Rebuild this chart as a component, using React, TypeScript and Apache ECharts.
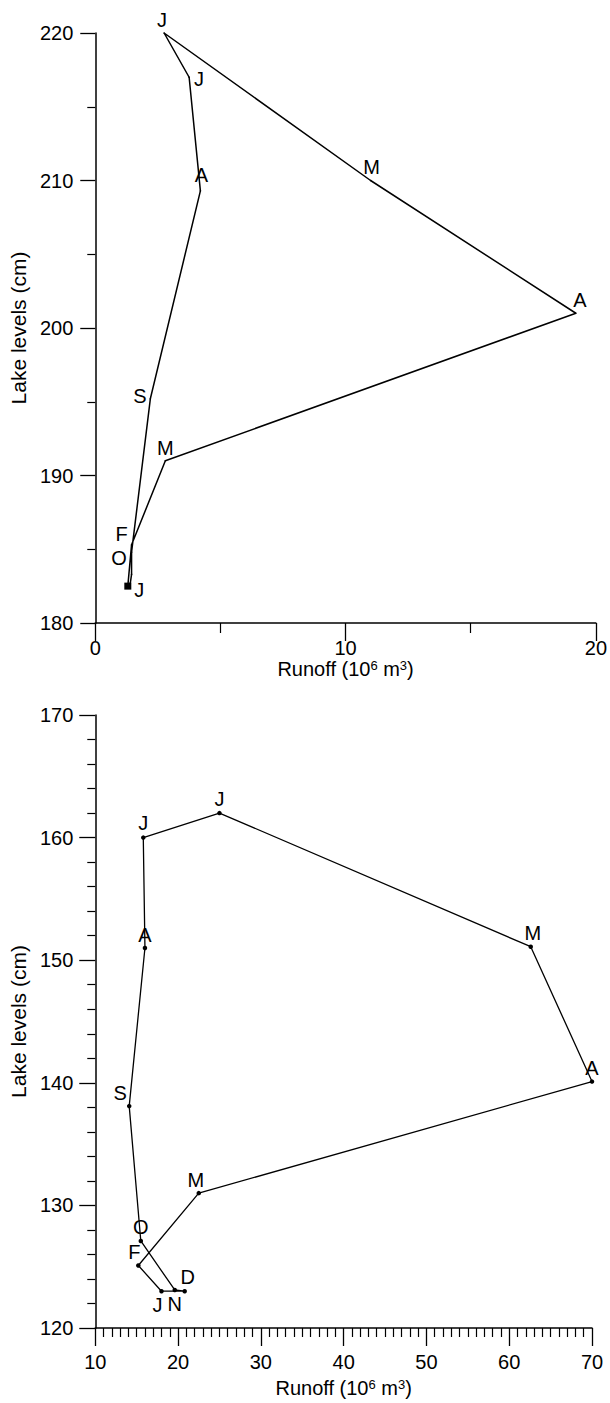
import React, { useEffect, useRef } from "react";
import * as echarts from "echarts";

// ---- Data: upper panel ----
const topMonths = ["J", "F", "M", "A", "M", "J", "J", "A", "S", "O", "N", "D"];
const topRunoff = [1.3, 1.45, 2.8, 19.2, 11.0, 2.75, 3.75, 4.2, 2.2, 1.45, 1.45, 1.4];
const topLevel = [182.5, 185.3, 191.0, 201.0, 210.0, 220.0, 217.0, 209.3, 195.2, 184.8, 183.3, 182.7];
const topShowLabel = [true, true, true, true, true, true, true, true, true, true, false, false];

// ---- Data: lower panel ----
const botMonths = ["J", "F", "M", "A", "M", "J", "J", "A", "S", "O", "N", "D"];
const botRunoff = [18.0, 15.2, 22.5, 70.0, 62.6, 25.0, 15.8, 16.0, 14.1, 15.5, 19.6, 20.8];
const botLevel = [123.0, 125.1, 131.0, 140.1, 151.1, 162.0, 160.0, 151.0, 138.1, 127.1, 123.1, 123.0];

// ---- Axis ticks ----
const topXTicks = { min: 0, max: 20, interval: 10 };
const topYTicks = { min: 180, max: 220, interval: 10 };
const botXTicks = { min: 10, max: 70, interval: 10 };
const botYTicks = { min: 120, max: 170, interval: 10 };

// ---- Label placement (layout only) ----
const topLabelLayout: any[] = [
  { position: "right", distance: 3, offset: [0, 4] },
  { position: "left", distance: 3, offset: [0, -11] },
  { position: "top", distance: 2, offset: [0, 0] },
  { position: "top", distance: 3, offset: [4, 0] },
  { position: "top", distance: 3, offset: [1, 0] },
  { position: "top", distance: 2, offset: [-2, 0] },
  { position: "right", distance: 4, offset: [0, 2] },
  { position: "top", distance: 5, offset: [1, 0] },
  { position: "left", distance: 3, offset: [0, -3] },
  { position: "left", distance: 4, offset: [0, 6] },
  { position: "top", distance: 3, offset: [0, 0] },
  { position: "top", distance: 3, offset: [0, 0] },
];
const botLabelLayout: any[] = [
  { position: "bottom", distance: 2, offset: [-4, 0] },
  { position: "top", distance: 1, offset: [-4, 0] },
  { position: "top", distance: 1, offset: [-3, 0] },
  { position: "top", distance: 1, offset: [0, 0] },
  { position: "top", distance: 1, offset: [2, 0] },
  { position: "top", distance: 2, offset: [0, 0] },
  { position: "top", distance: 2, offset: [0, 0] },
  { position: "top", distance: 1, offset: [0, 0] },
  { position: "top", distance: 1, offset: [-9, 0] },
  { position: "top", distance: 2, offset: [0, 0] },
  { position: "bottom", distance: 2, offset: [0, 0] },
  { position: "top", distance: 2, offset: [3, 0] },
];

const FONT = "'Liberation Sans', Arial, Helvetica, sans-serif";

function axisCommon(t: any, tickLen: number, minorLen: number, minorSplit: number, labelMargin: number) {
  return {
    type: "value",
    min: t.min,
    max: t.max,
    interval: t.interval,
    splitLine: { show: false },
    axisLine: { show: true, onZero: false, lineStyle: { color: "#000", width: 1.5 } },
    axisTick: { show: true, length: tickLen, lineStyle: { color: "#000", width: 1.3 } },
    minorTick: { show: true, splitNumber: minorSplit, length: minorLen, lineStyle: { color: "#000", width: 1.2 } },
    minorSplitLine: { show: false },
    axisLabel: { color: "#000", fontSize: 20, fontFamily: FONT, margin: labelMargin },
  };
}

const runoffName = "Runoff (10{sup|6} m{sup|3})";
const nameStyle = {
  color: "#000",
  fontSize: 20,
  fontFamily: FONT,
  rich: {
    sup: { fontSize: 13, fontFamily: FONT, color: "#000", verticalAlign: "top", padding: [0, 0, 7, 0] },
  },
};

function buildData(months: string[], xs: number[], ys: number[], layout: any[], show: boolean[] | null, first: any) {
  const items: any[] = months.map((m, i) => {
    const lay = layout[i];
    const item: any = {
      name: m,
      value: [xs[i], ys[i]],
      label: {
        show: show ? show[i] : true,
        position: lay.position,
        distance: lay.distance,
        offset: lay.offset,
      },
    };
    if (i === 0 && first) Object.assign(item, first);
    return item;
  });
  items.push({ name: "", value: [xs[0], ys[0]], label: { show: false }, symbolSize: 0 });
  return items;
}

export default function App() {
  const ref = useRef<HTMLDivElement>(null);
  useEffect(() => {
    if (!ref.current) return;
    const chart = echarts.init(ref.current, null, { renderer: "svg" });
    const labelStyle = { color: "#000", fontSize: 20, fontFamily: FONT, formatter: "{b}" };
    chart.setOption({
      animation: false,
      backgroundColor: "#fff",
      grid: [
        { left: 94, top: 33, width: 504, height: 590 },
        { left: 92, top: 715, width: 500, height: 613 },
      ],
      xAxis: [
        {
          ...axisCommon(topXTicks, 18, 10, 2, 15),
          gridIndex: 0,
          name: runoffName,
          nameLocation: "middle",
          nameGap: 31,
          nameTextStyle: nameStyle,
        },
        {
          ...axisCommon(botXTicks, 18, 9, 10, 24),
          gridIndex: 1,
          name: runoffName,
          nameLocation: "middle",
          nameGap: 50,
          nameTextStyle: nameStyle,
        },
      ],
      yAxis: [
        {
          ...axisCommon(topYTicks, 15, 8, 2, 22),
          gridIndex: 0,
          name: "Lake levels (cm)",
          nameLocation: "middle",
          nameGap: 62,
          nameTextStyle: { color: "#000", fontSize: 21, fontFamily: FONT },
        },
        {
          ...axisCommon(botYTicks, 16, 8, 5, 22),
          gridIndex: 1,
          name: "Lake levels (cm)",
          nameLocation: "middle",
          nameGap: 61,
          nameTextStyle: { color: "#000", fontSize: 21, fontFamily: FONT },
        },
      ],
      series: [
        {
          type: "line",
          xAxisIndex: 0,
          yAxisIndex: 0,
          clip: false,
          symbol: "circle",
          symbolSize: 1.5,
          itemStyle: { color: "#000" },
          lineStyle: { color: "#000", width: 1.5 },
          label: labelStyle,
          data: buildData(topMonths, topRunoff, topLevel, topLabelLayout, topShowLabel, {
            symbol: "rect",
            symbolSize: 7,
          }),
        },
        {
          type: "line",
          xAxisIndex: 1,
          yAxisIndex: 1,
          clip: false,
          symbol: "circle",
          symbolSize: 4.5,
          itemStyle: { color: "#000" },
          lineStyle: { color: "#000", width: 1.3 },
          label: labelStyle,
          data: buildData(botMonths, botRunoff, botLevel, botLabelLayout, null, null),
        },
      ],
    });
    return () => chart.dispose();
  }, []);
  return (
    <div
      ref={ref}
      style={{ position: "absolute", left: 0, top: 0, width: 610, height: 1403, background: "#fff" }}
    />
  );
}
